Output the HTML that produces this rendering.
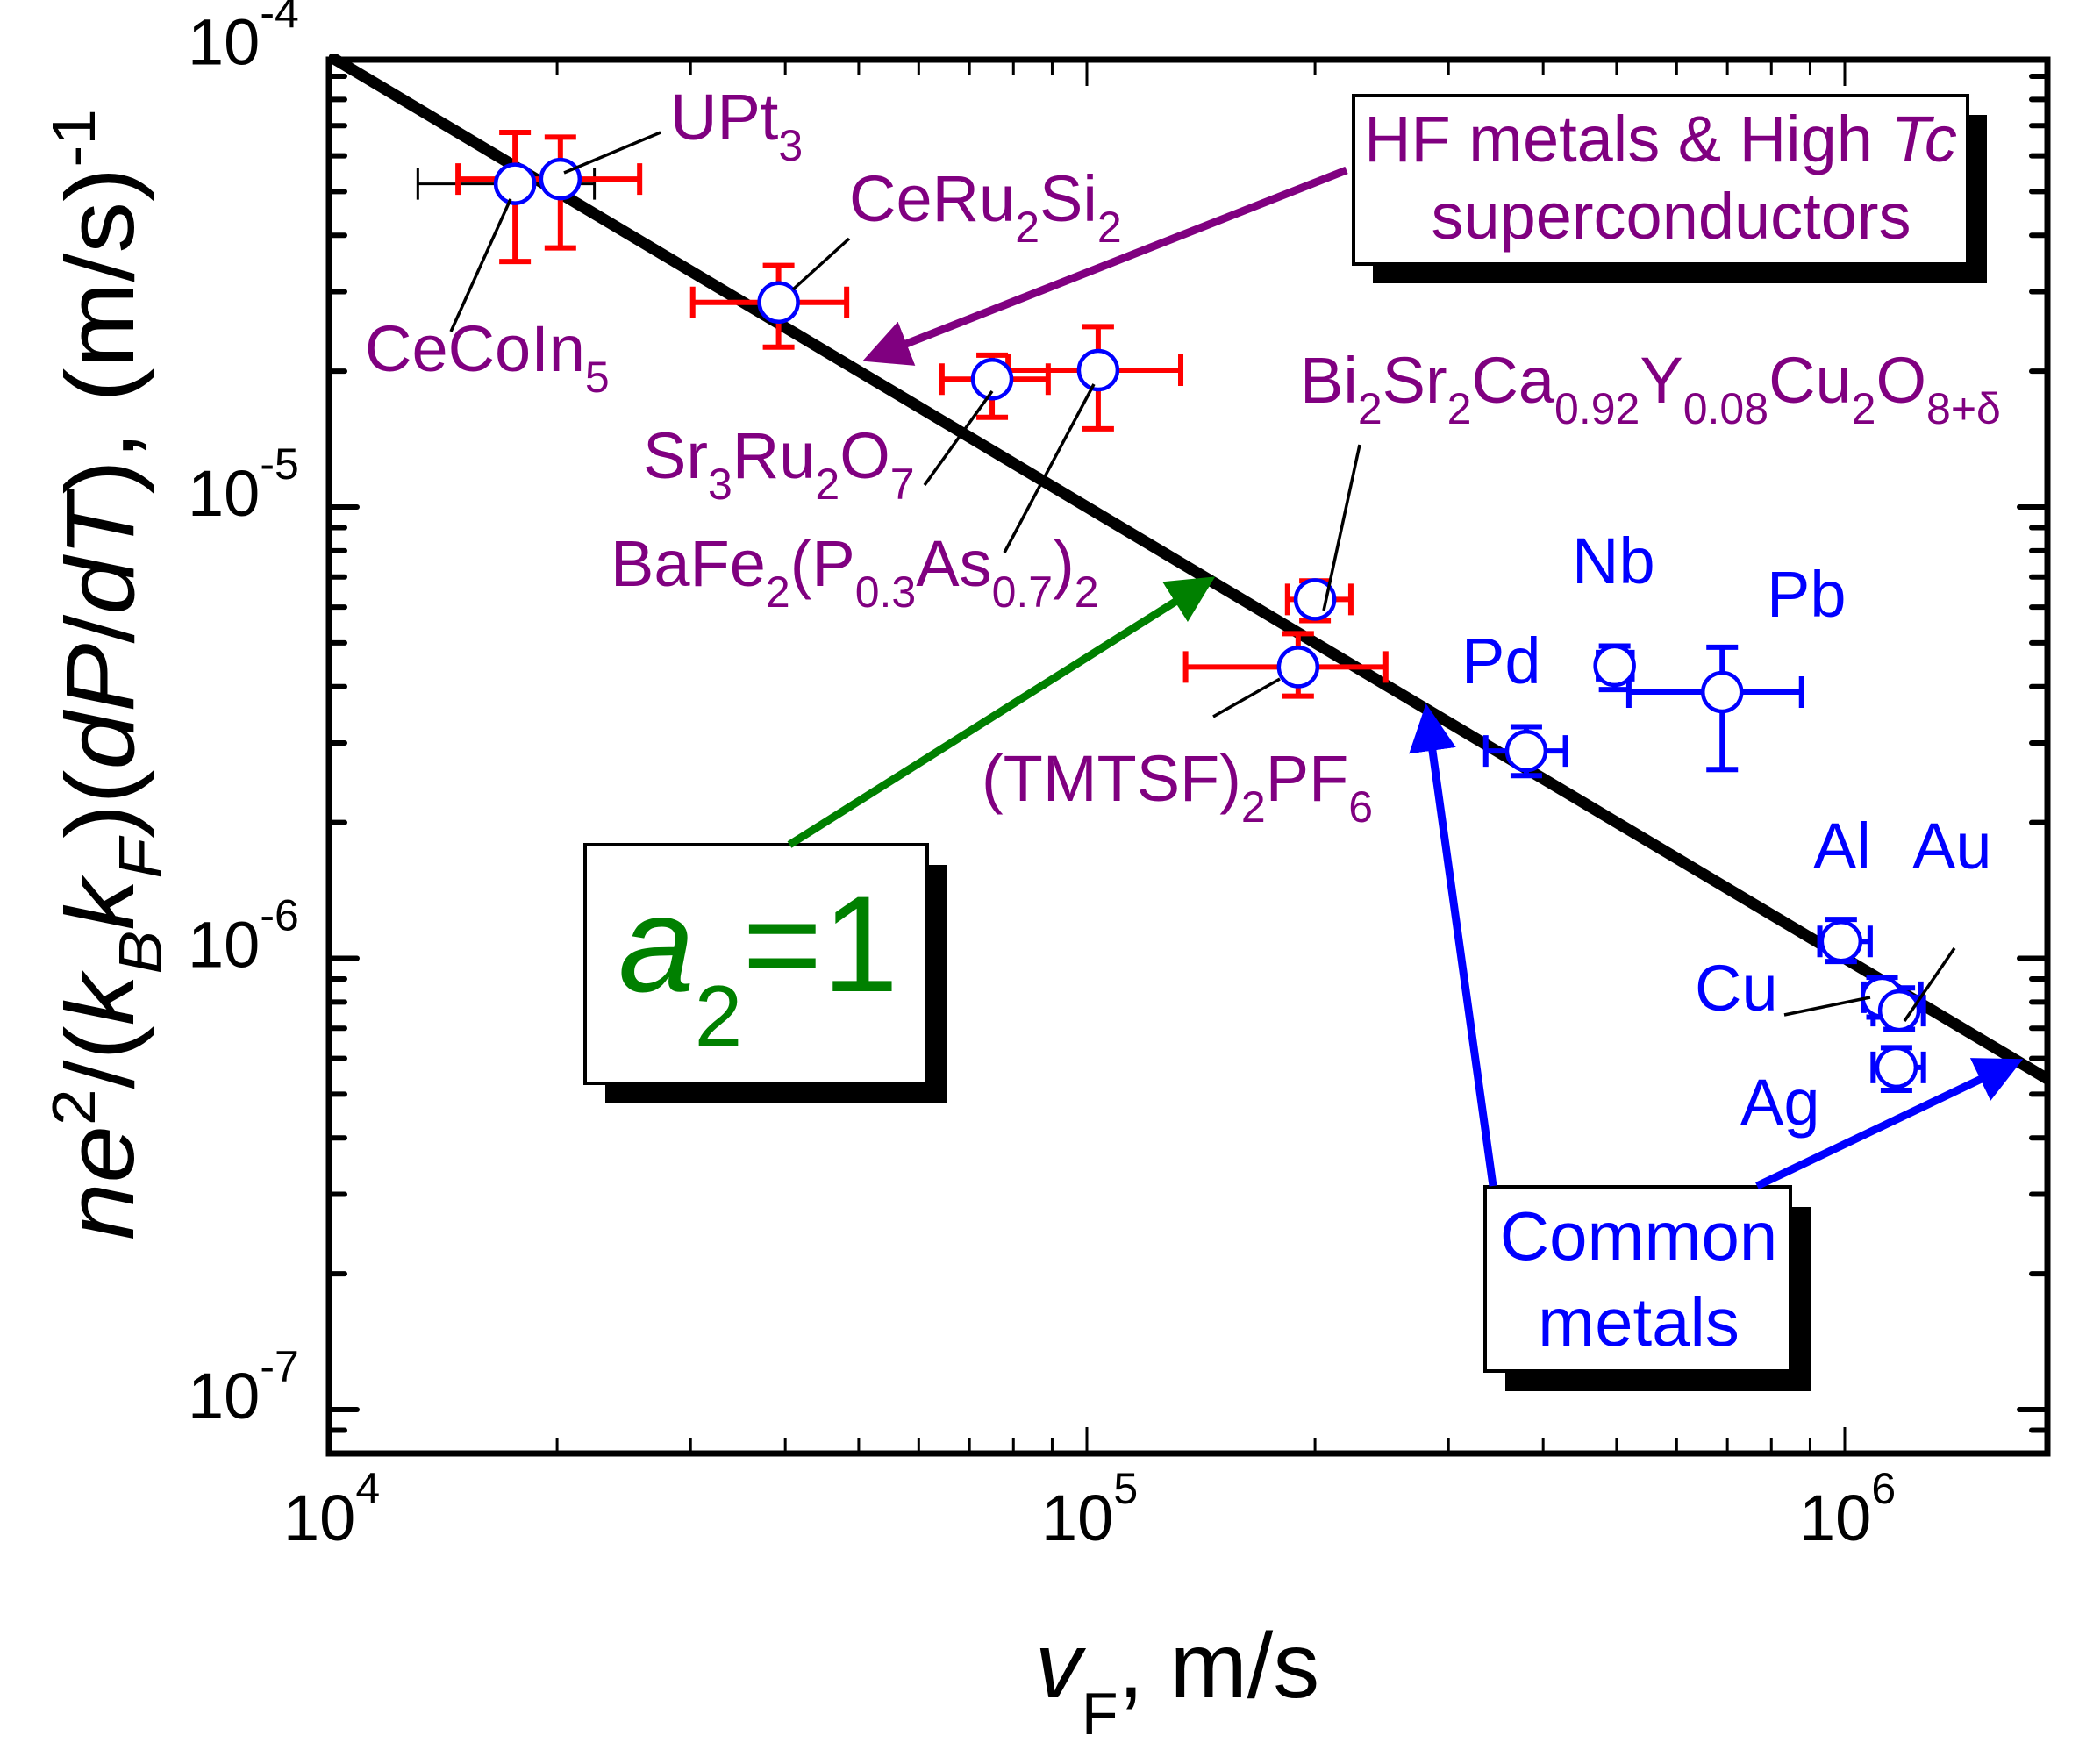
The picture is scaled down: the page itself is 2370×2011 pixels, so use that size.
<!DOCTYPE html>
<html><head><meta charset="utf-8"><style>
html,body{margin:0;padding:0;background:#fff;}
svg{display:block;font-family:"Liberation Sans",Arial,sans-serif;}
</style></head><body>
<svg id="chart" width="2370" height="2011" viewBox="0 0 2370 2011" xmlns="http://www.w3.org/2000/svg">
<defs>
<marker id="ahP" markerWidth="6" markerHeight="6" refX="4" refY="3" orient="auto" markerUnits="strokeWidth"><path d="M0,0 L6,3 L0,6 z" fill="#800080"/></marker>
<marker id="ahG" markerWidth="6" markerHeight="6" refX="4" refY="3" orient="auto" markerUnits="strokeWidth"><path d="M0,0 L6,3 L0,6 z" fill="#008000"/></marker>
<marker id="ahB" markerWidth="6" markerHeight="6" refX="4" refY="3" orient="auto" markerUnits="strokeWidth"><path d="M0,0 L6,3 L0,6 z" fill="#0000ff"/></marker>
</defs>
<g id="plot"></g>
<g id="ann" font-size="74" fill="#800080">
<g stroke="#000" stroke-width="3.5">
<line x1="753" y1="151" x2="643" y2="197"/>
<line x1="968" y1="272" x2="904" y2="330"/>
<line x1="514" y1="378" x2="582" y2="227"/>
<line x1="1054" y1="553" x2="1131" y2="446"/>
<line x1="1145" y1="630" x2="1247" y2="438"/>
<line x1="1509" y1="696" x2="1550" y2="507"/>
<line x1="1383" y1="817" x2="1459" y2="774"/>
<line x1="2034" y1="1157" x2="2132" y2="1137"/>
<line x1="2171" y1="1164" x2="2228" y2="1081"/>
</g>
<text x="764" y="159">UPt<tspan font-size="50" dy="24">3</tspan></text>
<text x="968" y="252">CeRu<tspan font-size="50" dy="24">2</tspan><tspan dy="-24">Si</tspan><tspan font-size="50" dy="24">2</tspan></text>
<text x="416" y="423">CeCoIn<tspan font-size="50" dy="24">5</tspan></text>
<text x="733" y="545">Sr<tspan font-size="50" dy="24">3</tspan><tspan dy="-24">Ru</tspan><tspan font-size="50" dy="24">2</tspan><tspan dy="-24">O</tspan><tspan font-size="50" dy="24">7</tspan></text>
<text x="696" y="668">BaFe<tspan font-size="50" dy="24">2</tspan><tspan dy="-24">(P</tspan><tspan font-size="50" dy="24">0.3</tspan><tspan dy="-24">As</tspan><tspan font-size="50" dy="24">0.7</tspan><tspan dy="-24">)</tspan><tspan font-size="50" dy="24">2</tspan></text>
<text x="1482" y="459">Bi<tspan font-size="50" dy="24">2</tspan><tspan dy="-24">Sr</tspan><tspan font-size="50" dy="24">2</tspan><tspan dy="-24">Ca</tspan><tspan font-size="50" dy="24">0.92</tspan><tspan dy="-24">Y</tspan><tspan font-size="50" dy="24">0.08</tspan><tspan dy="-24">Cu</tspan><tspan font-size="50" dy="24">2</tspan><tspan dy="-24">O</tspan><tspan font-size="50" dy="24">8+δ</tspan></text>
<text x="1119" y="913">(TMTSF)<tspan font-size="50" dy="24">2</tspan><tspan dy="-24">PF</tspan><tspan font-size="50" dy="24">6</tspan></text>
<g fill="#0000ff">
<text x="1792" y="665">Nb</text>
<text x="2014" y="703">Pb</text>
<text x="1666" y="779">Pd</text>
<text x="2067" y="990">Al</text>
<text x="2180" y="990">Au</text>
<text x="1932" y="1152">Cu</text>
<text x="1984" y="1282">Ag</text>
</g>
<rect x="1565" y="131" width="700" height="192" fill="#000"/>
<rect x="1543" y="109" width="700" height="192" fill="#fff" stroke="#000" stroke-width="4"/>
<text x="1893" y="184" text-anchor="middle">HF metals &amp; High <tspan font-style="italic">Tc</tspan></text>
<text x="1905" y="272" text-anchor="middle">superconductors</text>
<line x1="1535" y1="194" x2="1000" y2="405" stroke="#800080" stroke-width="9" marker-end="url(#ahP)"/>
<rect x="690" y="986" width="390" height="272" fill="#000"/>
<rect x="667" y="963" width="390" height="272" fill="#fff" stroke="#000" stroke-width="4"/>
<text x="705" y="1130" font-size="156" fill="#008000"><tspan font-style="italic">a</tspan><tspan font-size="98" dy="62">2</tspan><tspan dy="-62">=1</tspan></text>
<line x1="900" y1="963" x2="1370" y2="667" stroke="#008000" stroke-width="9" marker-end="url(#ahG)"/>
<rect x="1716" y="1376" width="348" height="210" fill="#000"/>
<rect x="1693" y="1353" width="348" height="210" fill="#fff" stroke="#000" stroke-width="4"/>
<text x="1868" y="1436" font-size="78" fill="#0000ff" text-anchor="middle">Common</text>
<text x="1868" y="1534" font-size="78" fill="#0000ff" text-anchor="middle">metals</text>
<line x1="1702" y1="1352" x2="1628" y2="820" stroke="#0000ff" stroke-width="9" marker-end="url(#ahB)"/>
<line x1="2003" y1="1352" x2="2290" y2="1215" stroke="#0000ff" stroke-width="9" marker-end="url(#ahB)"/>
</g>
<text x="1180" y="1935" font-size="106" fill="#000"><tspan font-style="italic">v</tspan><tspan font-size="68" dy="42">F</tspan><tspan dy="-42">, m/s</tspan></text>
<text transform="translate(152,1414) rotate(-90)" font-size="110" fill="#000" textLength="1290" lengthAdjust="spacingAndGlyphs"><tspan font-style="italic">ne</tspan><tspan font-size="70" dy="-44">2</tspan><tspan dy="44">/(</tspan><tspan font-style="italic">k</tspan><tspan font-size="70" dy="32" font-style="italic">B</tspan><tspan dy="-32" font-style="italic">k</tspan><tspan font-size="70" dy="32" font-style="italic">F</tspan><tspan dy="-32">)(</tspan><tspan font-style="italic">dP</tspan><tspan>/</tspan><tspan font-style="italic">dT</tspan><tspan>), (m/s)</tspan><tspan font-size="70" dy="-44">-1</tspan></text>
</svg>
<script>
const xLogMin = 4, yLogMax = -4;
const L = 375, T = 68, R = 2334, B = 1657;
const xDec = 864, yDec = 514.5, yTop = 63.5;
function xs(v){ return L + (Math.log10(v) - xLogMin) * xDec; }
function ys(v){ return yTop + (yLogMax - Math.log10(v)) * yDec; }

const names   = ["CeCoIn5","UPt3","CeRu2Si2","Sr3Ru2O7","BaFe2(P0.3As0.7)2","Bi2212","(TMTSF)2PF6","Pd","Nb","Pb","Al","Cu","Au","Ag"];
const vF      = [1.76e4, 2.02e4, 3.92e4, 7.5e4, 1.035e5, 2.0e5, 1.9e5, 3.8e5, 4.97e5, 6.89e5, 9.89e5, 1.12e6, 1.18e6, 1.17e6];
const yVal    = [5.2e-5, 5.33e-5, 2.84e-5, 1.92e-5, 2.01e-5, 6.24e-6, 4.42e-6, 2.88e-6, 4.45e-6, 3.89e-6, 1.09e-6, 8.2e-7, 7.66e-7, 5.73e-7];
const xLo     = [1.31e4, 1.48e4, 3.02e4, 6.44e4, 7.87e4, 1.84e5, 1.35e5, 3.36e5, 4.73e5, 5.19e5, 9.27e5, 1.06e6, 1.09e6, 1.09e6];
const xHi     = [2.24e4, 2.57e4, 4.82e4, 8.89e4, 1.33e5, 2.23e5, 2.48e5, 4.28e5, 5.24e5, 8.77e5, 1.08e6, 1.26e6, 1.27e6, 1.27e6];
const yLo     = [3.5e-5, 3.75e-5, 2.26e-5, 1.58e-5, 1.49e-5, 5.6e-6, 3.81e-6, 2.54e-6, 3.94e-6, 2.62e-6, 9.84e-7, 7.41e-7, 6.96e-7, 5.1e-7];
const yHi     = [6.76e-5, 6.6e-5, 3.43e-5, 2.17e-5, 2.51e-5, 6.86e-6, 5.24e-6, 3.26e-6, 4.92e-6, 4.89e-6, 1.22e-6, 9.08e-7, 8.6e-7, 6.34e-7];
const errColor= ["black-x","red","red","red","red","red","red","blue","blue","blue","blue","blue","blue","blue"];
const fitX    = [1e4, 1.85e6];
const xTicks  = [1e4, 1e5, 1e6];
const xTickLabels = ["4","5","6"];
const yTicks  = [1e-4, 1e-5, 1e-6, 1e-7];
const yTickLabels = ["-4","-5","-6","-7"];

const NS = "http://www.w3.org/2000/svg";
const g = document.getElementById("plot");
function mk(tag, attrs, parent){ const e = document.createElementNS(NS, tag); for (const k in attrs) e.setAttribute(k, attrs[k]); (parent||g).appendChild(e); return e; }

const defs = document.querySelector("defs");
const cp = mk("clipPath", {id:"clip"}, defs);
mk("rect", {x:L, y:T-6, width:R-L, height:B-T+6}, cp);

for (let d = 4; d <= 6; d++) {
  for (let m = 1; m <= 9; m++) {
    const v = m * Math.pow(10, d);
    const X = xs(v);
    if (X > R) continue;
    const len = m === 1 ? 30 : 18;
    const t1 = mk("line", {x1:X, y1:B, x2:X, y2:B-len, stroke:"#000", "stroke-width":3});
    
    
    const t2 = mk("line", {x1:X, y1:T, x2:X, y2:T+len, stroke:"#000", "stroke-width":3});
    
    
  }
}
for (let d = -8; d <= -5; d++) {
  for (let m = 1; m <= 9; m++) {
    const v = m * Math.pow(10, d);
    const Y = ys(v);
    if (Y < T - 1 || Y > B) continue;
    const len = m === 1 ? 32 : 18;
    const t1 = mk("line", {x1:L, y1:Y, x2:L+len, y2:Y, stroke:"#000", "stroke-width":6, "stroke-linecap":"round"});
    
    
    const t2 = mk("line", {x1:R, y1:Y, x2:R-len, y2:Y, stroke:"#000", "stroke-width":6, "stroke-linecap":"round"});
    
    
  }
}
const fr = mk("rect", {x:L, y:T, width:R-L, height:B-T, fill:"none", stroke:"#000", "stroke-width":7});



xTicks.forEach((v, i) => {
  const t = mk("text", {x:xs(v)-52, y:1756, "font-size":74, fill:"#000"});
  
  
  t.innerHTML = '10<tspan font-size="50" dy="-42">' + xTickLabels[i] + '</tspan>';
});
yTicks.forEach((v, i) => {
  const t = mk("text", {x:214, y:ys(v)+10, "font-size":74, fill:"#000"});
  
  
  t.innerHTML = '10<tspan font-size="50" dy="-42">' + yTickLabels[i] + '</tspan>';
});

const cg = mk("g", {"clip-path":"url(#clip)"});
const fl = mk("line", {x1:xs(fitX[0]), y1:ys(1/fitX[0]), x2:xs(fitX[1]), y2:ys(1/fitX[1]), stroke:"#000", "stroke-width":13}, cg);



names.forEach((n, i) => {
  const X = xs(vF[i]), Y = ys(yVal[i]);
  let col = errColor[i] === "blue" ? "#0000ff" : "#ff0000";
  const xcol = errColor[i] === "black-x" ? "#000" : col;
  const xw = errColor[i] === "black-x" ? 3 : 6;
  const cap = 18;
  const eg = mk("g", {}, cg);
  
  
  mk("line", {x1:xs(xLo[i]), y1:Y, x2:xs(xHi[i]), y2:Y, stroke:xcol, "stroke-width":xw}, eg);
  mk("line", {x1:xs(xLo[i]), y1:Y-cap, x2:xs(xLo[i]), y2:Y+cap, stroke:xcol, "stroke-width":xw}, eg);
  mk("line", {x1:xs(xHi[i]), y1:Y-cap, x2:xs(xHi[i]), y2:Y+cap, stroke:xcol, "stroke-width":xw}, eg);
  mk("line", {x1:X, y1:ys(yLo[i]), x2:X, y2:ys(yHi[i]), stroke:col, "stroke-width":6}, eg);
  mk("line", {x1:X-cap, y1:ys(yLo[i]), x2:X+cap, y2:ys(yLo[i]), stroke:col, "stroke-width":6}, eg);
  mk("line", {x1:X-cap, y1:ys(yHi[i]), x2:X+cap, y2:ys(yHi[i]), stroke:col, "stroke-width":6}, eg);
});
names.forEach((n, i) => {
  const c = mk("circle", {cx:xs(vF[i]), cy:ys(yVal[i]), r:22, fill:"#fff", stroke:"#0000ff", "stroke-width":4.5}, cg);
  
  
});
</script>
</body></html>
